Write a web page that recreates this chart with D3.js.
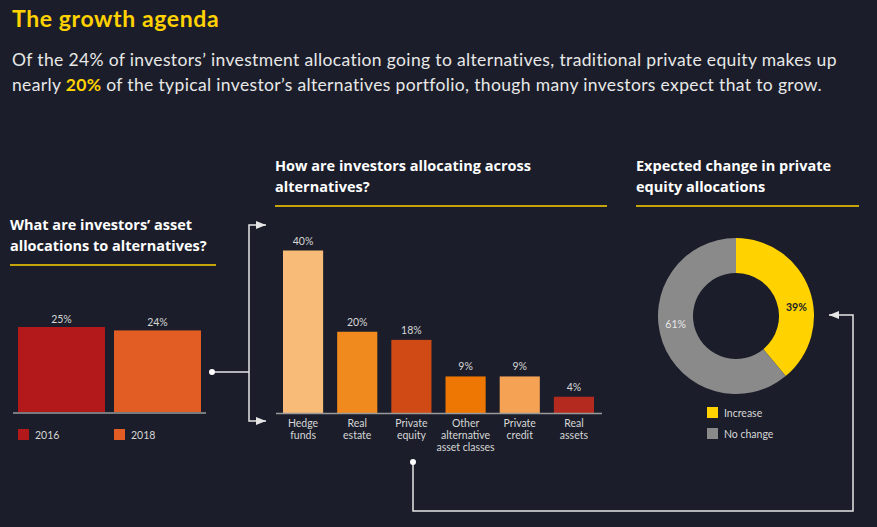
<!DOCTYPE html>
<html><head><meta charset="utf-8">
<script src="https://cdn.jsdelivr.net/npm/d3@7"></script>
<style>
html,body{margin:0;padding:0;background:#1b1e2a;}
svg{display:block;}
text{font-family:Lato, "Open Sans", sans-serif;}
text.hd{font-family:"Open Sans", sans-serif;}
</style></head>
<body>
<script>
// ---- data ----
const years = ["2016", "2018"];
const yearValues = [25, 24];
const yearColors = ["#b3191a", "#e15d24"];

const altCategories = [["Hedge","funds"],["Real","estate"],["Private","equity"],["Other","alternative","asset classes"],["Private","credit"],["Real","assets"]];
const altValues = [40, 20, 18, 9, 9, 4];
const altColors = ["#f8bb78", "#f08a1f", "#d04a16", "#ee7703", "#f5a255", "#b52a1e"];

const changeLabels = ["Increase", "No change"];
const changeValues = [39, 61];
const changeColors = ["#ffd200", "#8a8a8a"];

const W = 877, H = 527;
const yellow = "#ffd200", txt = "#e8e8e8", lbl = "#d6d6d6", line = "#e6e6e6";

const svg = d3.select("body").append("svg").attr("width", W).attr("height", H);
svg.append("rect").attr("width", W).attr("height", H).attr("fill", "#1b1e2a");

// defs: arrowhead
svg.append("defs").append("marker").attr("id","arr").attr("viewBox","0 0 10 10")
  .attr("refX",10).attr("refY",5).attr("markerWidth",10).attr("markerHeight",10)
  .attr("markerUnits","userSpaceOnUse").attr("orient","auto")
  .append("path").attr("d","M0,1 L10,5 L0,9 Z").attr("fill", line);

// ---- title ----
svg.append("text").attr("x",12).attr("y",27).attr("fill",yellow)
  .attr("font-size",23).attr("letter-spacing",0.6).attr("font-weight",700).text("The growth agenda");
svg.append("text").attr("x",12).attr("y",66).attr("fill",txt).attr("font-size",17.5).attr("letter-spacing",0.35)
  .text("Of the 24% of investors’ investment allocation going to alternatives, traditional private equity makes up");
const l2 = svg.append("text").attr("x",12).attr("y",91).attr("fill",txt).attr("font-size",17.5).attr("letter-spacing",0.35);
l2.append("tspan").text("nearly ");
l2.append("tspan").attr("fill",yellow).attr("font-weight",700).text("20%");
l2.append("tspan").text(" of the typical investor’s alternatives portfolio, though many investors expect that to grow.");

function heading(x, y, lines, x2) {
  lines.forEach((s,i)=> svg.append("text").attr("class","hd").attr("x",x).attr("y",y+i*21).attr("fill","#fff")
    .attr("font-size",14.5).attr("font-weight",700).text(s));
  svg.append("line").attr("x1",x).attr("x2",x2).attr("y1",y+35).attr("y2",y+35)
    .attr("stroke",yellow).attr("stroke-width",1.5);
}
heading(10, 230, ["What are investors’ asset", "allocations to alternatives?"], 216);
heading(275, 171, ["How are investors allocating across", "alternatives?"], 607);
heading(636, 171, ["Expected change in private", "equity allocations"], 859);

// ---- left bars ----
const xL = d3.scaleBand().domain(years).range([18, 201]).paddingInner(9/96).paddingOuter(0);
const yL = d3.scaleLinear().domain([0, 25]).range([412, 327]);
const gL = svg.append("g");
gL.selectAll("rect").data(years).join("rect")
  .attr("x", d=>xL(d)).attr("width", xL.bandwidth())
  .attr("y", (d,i)=>yL(yearValues[i])).attr("height", (d,i)=>yL(0)-yL(yearValues[i]))
  .attr("fill", (d,i)=>yearColors[i]);
gL.selectAll("text.v").data(years).join("text").attr("class","v")
  .attr("x", d=>xL(d)+xL.bandwidth()/2).attr("y",(d,i)=>yL(yearValues[i])-4)
  .attr("text-anchor","middle").attr("fill",lbl).attr("font-size",10.5)
  .text((d,i)=>yearValues[i]+"%");
gL.append("line").attr("x1",13).attr("x2",206).attr("y1",yL(0)+1).attr("y2",yL(0)+1)
  .attr("stroke","#9a9a9a").attr("stroke-width",1.5);
// legend
const lgL = gL.selectAll("g.lg").data(years).join("g").attr("class","lg")
  .attr("transform", d=>`translate(${xL(d)},429)`);
lgL.append("rect").attr("width",11).attr("height",11).attr("fill",(d,i)=>yearColors[i]);
lgL.append("text").attr("x",17).attr("y",9.5).attr("fill",lbl).attr("font-size",10.5).text(d=>d);

// ---- middle bars ----
const idx = d3.range(altValues.length);
const xM = d3.scaleBand().domain(idx).range([283, 594]).paddingInner(14/54).paddingOuter(0);
const yM = d3.scaleLinear().domain([0, 40]).range([413, 250.5]);
const gM = svg.append("g");
gM.selectAll("rect").data(idx).join("rect")
  .attr("x", d=>xM(d)).attr("width", xM.bandwidth())
  .attr("y", d=>yM(altValues[d])).attr("height", d=>yM(0)-yM(altValues[d]))
  .attr("fill", d=>altColors[d]);
gM.selectAll("text.v").data(idx).join("text").attr("class","v")
  .attr("x", d=>xM(d)+xM.bandwidth()/2).attr("y", d=>yM(altValues[d])-6)
  .attr("text-anchor","middle").attr("fill",lbl).attr("font-size",10.5)
  .text(d=>altValues[d]+"%");
gM.append("line").attr("x1",276).attr("x2",602).attr("y1",yM(0)+0.5).attr("y2",yM(0)+0.5)
  .attr("stroke","#9a9a9a").attr("stroke-width",1.5);
gM.selectAll("text.c").data(idx).join("text").attr("class","c")
  .attr("text-anchor","middle").attr("fill",lbl).attr("font-size",10.5)
  .each(function(d){
    const t = d3.select(this);
    altCategories[d].forEach((s,i)=> t.append("tspan")
      .attr("x", xM(d)+xM.bandwidth()/2).attr("y", 427+i*12).text(s));
  });

// ---- donut ----
const cx = 736, cy = 316;
const pie = d3.pie().sort(null).value(d=>d)(changeValues);
const arc = d3.arc().innerRadius(43).outerRadius(78);
const gD = svg.append("g").attr("transform",`translate(${cx},${cy})`);
gD.selectAll("path").data(pie).join("path").attr("d", arc).attr("fill",(d,i)=>changeColors[i]);
gD.selectAll("text").data(pie).join("text")
  .attr("transform", d=>{
    const a = (d.startAngle+d.endAngle)/2 + 0.2, r = 61;
    return `translate(${r*Math.sin(a)},${-r*Math.cos(a)+3.5})`;
  })
  .attr("text-anchor","middle").attr("font-size",10.5)
  .attr("font-weight",(d,i)=>i===0?700:400)
  .attr("fill",(d,i)=>i===0?"#1b1e2a":"#e8e8e8")
  .text(d=>d.value+"%");
const lgR = svg.selectAll("g.lgr").data(changeLabels).join("g").attr("class","lgr")
  .attr("transform",(d,i)=>`translate(707,${407+i*21})`);
lgR.append("rect").attr("width",11).attr("height",11).attr("fill",(d,i)=>changeColors[i]);
lgR.append("text").attr("x",17).attr("y",9.5).attr("fill",lbl).attr("font-size",10.5).text(d=>d);

// ---- connectors ----
const conn = svg.append("g").attr("fill","none").attr("stroke",line).attr("stroke-width",1.5);
conn.append("path").attr("d","M212,372 H249");
conn.append("path").attr("d","M249,372 V225 H266").attr("marker-end","url(#arr)");
conn.append("path").attr("d","M249,372 V421 H266").attr("marker-end","url(#arr)");
svg.append("circle").attr("cx",212).attr("cy",372).attr("r",3).attr("fill","#fff");
conn.append("path").attr("d","M413,462 V511 H853 V315 H829").attr("marker-end","url(#arr)");
svg.append("circle").attr("cx",413).attr("cy",462).attr("r",3).attr("fill","#fff");
</script>
</body></html>
